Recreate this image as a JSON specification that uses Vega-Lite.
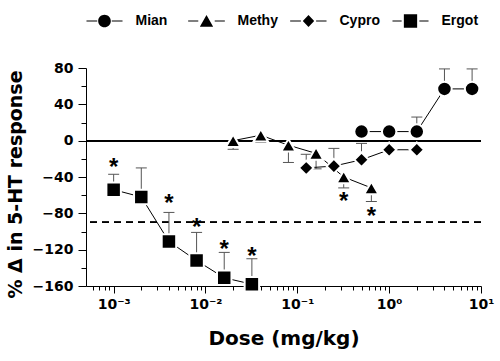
{
  "$schema": "https://vega.github.io/schema/vega-lite/v6.json",
  "width": 395,
  "height": 218,
  "autosize": {"type": "none"},
  "padding": {"left": 86, "top": 68, "right": 19, "bottom": 75},
  "background": "white",
  "config": {"view": {"stroke": null}, "font": "Liberation Sans", "axis": {"grid": false}},
  "data": {
    "values": [
      {"series": "Mian", "dose": 0.5, "val": 10, "err": null, "star": null},
      {"series": "Mian", "dose": 1, "val": 10, "err": null, "star": null},
      {"series": "Mian", "dose": 2, "val": 10, "err": 26, "star": null},
      {"series": "Mian", "dose": 4, "val": 57, "err": 79, "star": null},
      {"series": "Mian", "dose": 8, "val": 57, "err": 79, "star": null},
      {"series": "Methy", "dose": 0.02, "val": 0, "err": -9.5, "star": null},
      {"series": "Methy", "dose": 0.04, "val": 6, "err": -2, "star": null},
      {"series": "Methy", "dose": 0.08, "val": -5, "err": -24, "star": null},
      {"series": "Methy", "dose": 0.16, "val": -14, "err": -31, "star": null},
      {"series": "Methy", "dose": 0.32, "val": -40, "err": -52, "star": -61},
      {"series": "Methy", "dose": 0.64, "val": -52, "err": -67, "star": -77},
      {"series": "Cypro", "dose": 0.125, "val": -30, "err": -15, "star": null},
      {"series": "Cypro", "dose": 0.25, "val": -28, "err": -8.5, "star": null},
      {"series": "Cypro", "dose": 0.5, "val": -21, "err": -3, "star": null},
      {"series": "Cypro", "dose": 1, "val": -10, "err": null, "star": null},
      {"series": "Cypro", "dose": 2, "val": -10, "err": null, "star": null},
      {"series": "Ergot", "dose": 0.001, "val": -54, "err": -37, "star": -23},
      {"series": "Ergot", "dose": 0.002, "val": -62, "err": -30, "star": null},
      {"series": "Ergot", "dose": 0.004, "val": -111, "err": -79, "star": -63},
      {"series": "Ergot", "dose": 0.008, "val": -132, "err": -101, "star": -90},
      {"series": "Ergot", "dose": 0.016, "val": -151, "err": -123, "star": -114},
      {"series": "Ergot", "dose": 0.032, "val": -158, "err": -130, "star": -121.5}
    ]
  },
  "resolve": {
    "axis": {"x": "independent", "y": "independent"},
    "scale": {"shape": "independent"},
    "legend": {"shape": "independent"}
  },
  "layer": [
    {
      "mark": {"type": "rule", "color": "black", "strokeWidth": 1},
      "encoding": {
        "y": {"datum": 0, "type": "quantitative", "scale": {"domain": [-160, 80], "nice": false, "zero": false}, "axis": null}
      }
    },
    {
      "mark": {"type": "rule", "color": "black", "strokeWidth": 1, "strokeDash": [7, 5]},
      "encoding": {
        "y": {"datum": -90, "type": "quantitative", "scale": {"domain": [-160, 80], "nice": false, "zero": false}, "axis": null}
      }
    },
    {
      "transform": [{"filter": "datum.err != null"}],
      "mark": {"type": "rule", "color": "#555555", "strokeWidth": 1},
      "encoding": {
        "x": {"field": "dose", "type": "quantitative", "scale": {"type": "log", "domain": [0.0005, 10], "nice": false}, "axis": null},
        "y": {"field": "val", "type": "quantitative", "scale": {"domain": [-160, 80], "nice": false, "zero": false}, "axis": null},
        "y2": {"field": "err"}
      }
    },
    {
      "transform": [{"filter": "datum.err != null"}],
      "mark": {"type": "tick", "orient": "horizontal", "color": "#555555", "size": 11, "thickness": 1, "opacity": 1},
      "encoding": {
        "x": {"field": "dose", "type": "quantitative", "scale": {"type": "log", "domain": [0.0005, 10], "nice": false}, "axis": null},
        "y": {"field": "err", "type": "quantitative", "scale": {"domain": [-160, 80], "nice": false, "zero": false}, "axis": null}
      }
    },
    {
      "mark": {"type": "line", "color": "black", "strokeWidth": 1},
      "encoding": {
        "x": {
          "field": "dose", "type": "quantitative",
          "scale": {"type": "log", "domain": [0.0005, 10], "nice": false},
          "axis": {
            "orient": "bottom",
            "values": [0.001, 0.01, 0.1, 1, 10],
            "labelExpr": "datum.value < 0.005 ? '10⁻³' : datum.value < 0.05 ? '10⁻²' : datum.value < 0.5 ? '10⁻¹' : datum.value < 5 ? '10⁰' : '10¹'",
            "title": "Dose (mg/kg)",
            "tickSize": 7, "tickColor": "black", "domainColor": "black",
            "labelFont": "DejaVu Sans", "labelFontSize": 14, "labelFontWeight": "bold", "labelColor": "black",
            "labelBaseline": "alphabetic", "labelPadding": 15, "labelFlush": false, "labelOverlap": false, "labelBound": false,
            "titleFont": "DejaVu Sans", "titleFontSize": 20, "titleFontWeight": "bold", "titleColor": "black",
            "titleBaseline": "alphabetic", "titleY": 58
          }
        },
        "y": {
          "field": "val", "type": "quantitative",
          "scale": {"domain": [-160, 80], "nice": false, "zero": false},
          "axis": {
            "orient": "left",
            "values": [-160, -120, -80, -40, 0, 40, 80],
            "title": "% Δ in 5-HT response",
            "tickSize": 8, "tickColor": "black", "domainColor": "black",
            "labelFont": "DejaVu Sans", "labelFontSize": 14, "labelFontWeight": "bold", "labelColor": "black",
            "labelPadding": 5, "labelOverlap": false, "labelBound": false, "labelFlush": false,
            "titleFont": "DejaVu Sans", "titleFontSize": 19, "titleFontWeight": "bold", "titleColor": "black",
            "titleBaseline": "alphabetic", "titleX": -65, "titleY": 116, "titleAngle": -90
          }
        },
        "detail": {"field": "series"},
        "order": {"field": "dose"}
      }
    },
    {
      "mark": {"type": "point", "filled": true, "color": "black", "stroke": "white", "strokeWidth": 2, "size": 210, "opacity": 1},
      "encoding": {
        "x": {
          "field": "dose", "type": "quantitative",
          "scale": {"type": "log", "domain": [0.0005, 10], "nice": false},
          "axis": {
            "orient": "bottom",
            "values": [0.0006, 0.0007, 0.0008, 0.0009, 0.002, 0.003, 0.004, 0.005, 0.006, 0.007, 0.008, 0.009, 0.02, 0.03, 0.04, 0.05, 0.06, 0.07, 0.08, 0.09, 0.2, 0.3, 0.4, 0.5, 0.6, 0.7, 0.8, 0.9, 2, 3, 4, 5, 6, 7, 8, 9],
            "labels": false, "title": null, "domain": false, "tickSize": 4, "tickColor": "black"
          }
        },
        "y": {
          "field": "val", "type": "quantitative",
          "scale": {"domain": [-160, 80], "nice": false, "zero": false},
          "axis": {
            "orient": "left",
            "values": [-140, -100, -60, -20, 20, 60],
            "labels": false, "title": null, "domain": false, "tickSize": 5, "tickColor": "black"
          }
        },
        "shape": {
          "field": "series", "type": "nominal",
          "scale": {"domain": ["Mian", "Methy", "Cypro", "Ergot"], "range": ["circle", "triangle-up", "diamond", "square"]},
          "legend": null
        }
      }
    },
    {
      "transform": [{"filter": "datum.star != null"}],
      "mark": {"type": "text", "text": "*", "fontSize": 24, "fontWeight": "bold", "font": "Liberation Sans", "baseline": "middle", "dy": 6, "color": "black"},
      "encoding": {
        "x": {"field": "dose", "type": "quantitative", "scale": {"type": "log", "domain": [0.0005, 10], "nice": false}, "axis": null},
        "y": {"field": "star", "type": "quantitative", "scale": {"domain": [-160, 80], "nice": false, "zero": false}, "axis": null}
      }
    },
    {
      "transform": [{"filter": "false"}],
      "mark": {"type": "point", "filled": true, "color": "black", "opacity": 1, "strokeWidth": 0},
      "encoding": {
        "shape": {
          "field": "series", "type": "nominal",
          "scale": {
            "domain": ["Mian", "Methy", "Cypro", "Ergot"],
            "range": [
              "M-2.85,-0.09H-1.15V0.09H-2.85Z M1.15,-0.09H2.85V0.09H1.15Z M1,0A1,1,0,1,1,-1,0A1,1,0,1,1,1,0Z",
              "M-2.9,-0.09H-1.3V0.09H-2.9Z M1.3,-0.09H2.9V0.09H1.3Z M0,-0.95L1.05,0.9L-1.05,0.9Z",
              "M-2.9,-0.09H-1.2V0.09H-2.9Z M1.2,-0.09H2.85V0.09H1.2Z M0,-0.95L0.9,0L0,0.95L-0.9,0Z",
              "M-2.85,-0.09H-1.4V0.09H-2.85Z M1.4,-0.09H2.85V0.09H1.4Z M-1.05,-1.05H1.05V1.05H-1.05Z"
            ]
          },
          "legend": {
            "title": null,
            "orient": "none",
            "legendX": 11.5,
            "legendY": -54,
            "direction": "horizontal",
            "columns": 4,
            "gridAlign": "all",
            "columnPadding": 11,
            "padding": 0,
            "symbolSize": 160,
            "symbolFillColor": "black",
            "symbolStrokeWidth": 0,
            "symbolOpacity": 1,
            "labelOffset": 24,
            "labelFont": "Liberation Sans",
            "labelFontSize": 14,
            "labelFontWeight": "bold",
            "labelColor": "black"
          }
        }
      }
    }
  ]
}
